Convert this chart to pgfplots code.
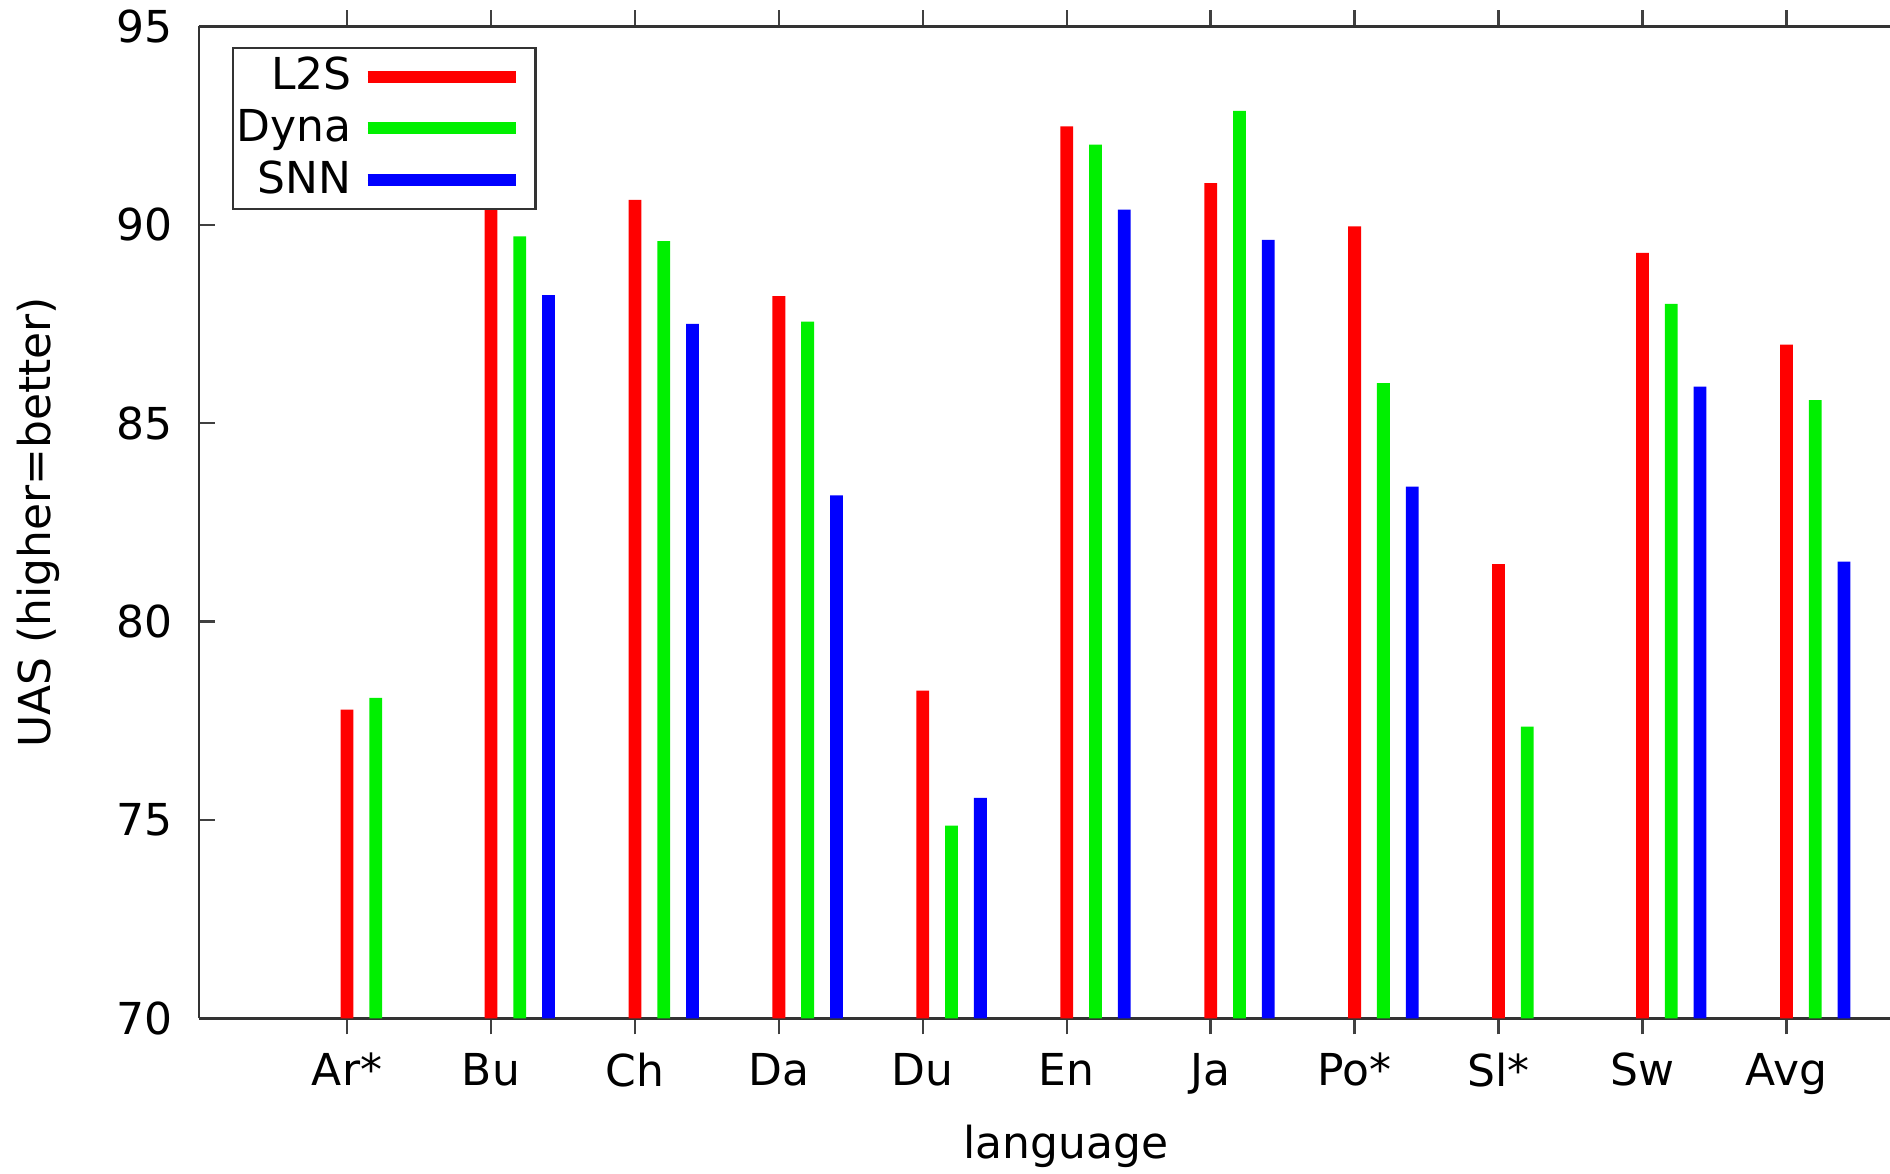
\documentclass[border=0pt]{standalone}
\usepackage{pgfplots}
\pgfplotsset{compat=1.18}
\usepackage{fontspec}
\setmainfont{DejaVu Sans}
\definecolor{gpred}{RGB}{255,0,0}
\definecolor{gpgreen}{RGB}{0,240,0}
\definecolor{gpblue}{RGB}{0,0,255}
\begin{document}
\begin{tikzpicture}
\useasboundingbox (0,0) rectangle (472.5pt,293.5pt);
\begin{axis}[
  at={(49.7pt,38.9pt)}, anchor=south west,
  scale only axis, width=422.8pt, height=248pt,
  xmin=-1.03, xmax=10.72, ymin=70, ymax=95,
  axis x line*=box, axis y line*=left,
  axis line style={black!80, line width=0.6pt, -},
  tick align=inside, major tick length=4pt,
  tick style={black!75, line width=0.6pt},
  xtick={0,...,10},
  xticklabels={Ar*,Bu,Ch,Da,Du,En,Ja,Po*,Sl*,Sw,Avg},
  ytick={70,75,...,95},
  yticklabel style={xshift=-3pt},
  xticklabel style={yshift=-1.2pt},
  /pgf/number format/assume math mode=true,
  font=\fontsize{11}{13}\selectfont,
  xlabel={language}, ylabel={UAS (higher=better)},
  xlabel style={yshift=-0.7pt, xshift=5.4pt},
  ylabel style={yshift=7.5pt},
  ybar, bar width=3.2pt, bar shift=0pt,
  legend plot pos=right,
  legend cell align=right,
  legend style={at={(axis description cs:0,1)}, anchor=north west,
    xshift=8.2pt, yshift=-5.1pt, draw=black!80, line width=0.6pt,
    fill=white, inner xsep=0pt, inner ysep=0.3pt, row sep=-0.6pt,
    font=\fontsize{11}{13}\selectfont,
    nodes={inner xsep=1pt}},
]
\addplot[draw=none, fill=gpred, legend image code/.code={\path (0pt,0pt); \draw[gpred, line width=3pt] (3pt,0pt) -- (40pt,0pt); \path (45pt,0pt);}] coordinates {
(0,77.78) (1,90.95) (2,90.63) (3,88.20) (4,78.26) (5,92.48) (6,91.05) (7,89.96) (8,81.45) (9,89.29) (10,86.98)};
\addlegendentry{L2S}
\addplot[draw=none, fill=gpgreen, legend image code/.code={\path (0pt,0pt); \draw[gpgreen, line width=3pt] (3pt,0pt) -- (40pt,0pt); \path (45pt,0pt);}] coordinates {
(0.2,78.08) (1.2,89.71) (2.2,89.59) (3.2,87.56) (4.2,74.86) (5.2,92.02) (6.2,92.87) (7.2,86.01) (8.2,77.35) (9.2,88.01) (10.2,85.58)};
\addlegendentry{Dyna}
\addplot[draw=none, fill=gpblue, legend image code/.code={\path (0pt,0pt); \draw[gpblue, line width=3pt] (3pt,0pt) -- (40pt,0pt); \path (45pt,0pt);}] coordinates {
(1.4,88.23) (2.4,87.50) (3.4,83.18) (4.4,75.56) (5.4,90.38) (6.4,89.62) (7.4,83.40) (9.4,85.92) (10.4,81.51)};
\addlegendentry{SNN}
\end{axis}
\end{tikzpicture}
\end{document}
